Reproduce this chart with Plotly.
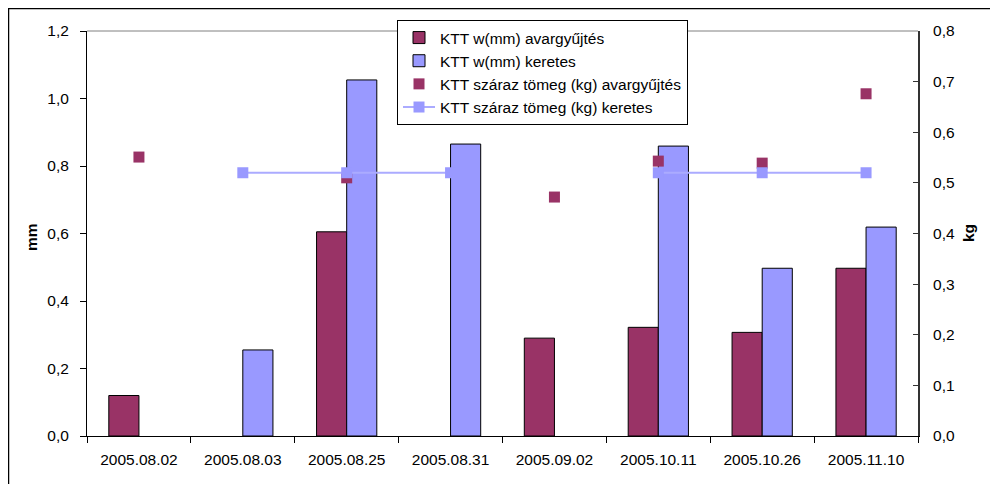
import plotly.graph_objects as go

categories = ["2005.08.02", "2005.08.03", "2005.08.25", "2005.08.31",
              "2005.09.02", "2005.10.11", "2005.10.26", "2005.11.10"]
w_avar = [0.12, None, 0.605, None, 0.29, 0.322, 0.307, 0.497]
w_keretes = [None, 0.255, 1.055, 0.865, None, 0.859, 0.497, 0.619]
kg_avar = [0.551, None, 0.51, None, 0.472, 0.543, 0.539, 0.676]
kg_keretes = [None, 0.52, 0.52, 0.52, None, 0.52, 0.52, 0.52]

names = ["KTT w(mm) avargyűjtés", "KTT w(mm) keretes",
         "KTT száraz tömeg (kg) avargyűjtés", "KTT száraz tömeg (kg) keretes"]

MAROON = "#993366"
LAV = "#9999FF"
FONT = "Arial, Liberation Sans, sans-serif"
FS = 15.5

# page body has an 8px margin: figure is placed at (8, 8)
OFF = 8
W, H = 998 - OFF, 484 - OFF
L, R, T, B = 87 - OFF, 80, 31 - OFF, 48
PW, PH = W - L - R, H - T - B


def px_x(px):
    return (px - OFF - L) / PW


def px_y(py):
    return (H - B - (py - OFF)) / PH


fig = go.Figure()
fig.add_trace(go.Bar(x=categories, y=w_avar, name=names[0], legendgroup="a",
                     marker=dict(color=MAROON, line=dict(color="black", width=1))))
fig.add_trace(go.Bar(x=categories, y=w_keretes, name=names[1], legendgroup="b",
                     marker=dict(color=LAV, line=dict(color="black", width=1))))
fig.add_trace(go.Scatter(x=categories, y=kg_avar, name=names[2], yaxis="y2",
                         legendgroup="c", mode="markers",
                         marker=dict(symbol="square", size=11, color=MAROON,
                                     line=dict(width=0))))
fig.add_trace(go.Scatter(x=categories, y=kg_keretes, name=names[3], yaxis="y2",
                         legendgroup="d", mode="lines+markers", connectgaps=False,
                         line=dict(color="#ABABFF", width=2),
                         marker=dict(symbol="square", size=11, color=LAV,
                                     line=dict(width=0))))

fig.update_layout(
    width=W, height=H,
    margin=dict(l=L, r=R, t=T, b=B, pad=0),
    paper_bgcolor="white", plot_bgcolor="white",
    font=dict(family=FONT, size=FS, color="black"),
    separators=", ",
    barmode="group", bargap=0.42, bargroupgap=0,
    showlegend=True,
    legend=dict(x=px_x(397), y=px_y(20), xanchor="left", yanchor="top",
                bgcolor="white", bordercolor="black", borderwidth=1,
                font=dict(family=FONT, size=FS, color="black"),
                tracegroupgap=5, itemwidth=32, traceorder="normal"),
    xaxis=dict(type="category", tickson="boundaries", ticks="outside", ticklen=6,
               tickcolor="black", showline=True, linecolor="black", linewidth=1,
               showgrid=False, zeroline=False, ticklabelstandoff=9,
               tickfont=dict(size=FS)),
    yaxis=dict(range=[0, 1.2], dtick=0.2, tickformat=".1f", ticks="outside",
               ticklen=6, tickcolor="black", showline=True, linecolor="black",
               linewidth=1, showgrid=False, zeroline=False, ticklabelstandoff=8,
               tickfont=dict(size=FS)),
    yaxis2=dict(range=[0, 0.8], dtick=0.1, tickformat=".1f", overlaying="y",
                side="right", ticks="inside", ticklen=5, tickcolor="#333333",
                showline=True, linecolor="#333333", linewidth=2, showgrid=False,
                zeroline=False, ticklabelstandoff=10, tickfont=dict(size=FS)),
    shapes=[
        dict(type="line", xref="paper", yref="paper", x0=0, x1=1, y0=1, y1=1,
             line=dict(color="#808080", width=1), layer="below"),
        dict(type="rect", xref="paper", yref="paper", x0=px_x(8.5), x1=px_x(1100),
             y0=px_y(700), y1=px_y(8.5), line=dict(color="black", width=1.5),
             fillcolor="rgba(0,0,0,0)", layer="below"),
    ],
    annotations=[
        dict(text="<b>mm</b>", xref="paper", yref="paper", x=px_x(31), y=px_y(237),
             xanchor="center", yanchor="middle", textangle=-90, showarrow=False,
             font=dict(family=FONT, size=FS, color="black")),
        dict(text="<b>kg</b>", xref="paper", yref="paper", x=px_x(968), y=px_y(233),
             xanchor="center", yanchor="middle", textangle=-90, showarrow=False,
             font=dict(family=FONT, size=FS, color="black")),
    ],
)

fig.write_html("out.html")
